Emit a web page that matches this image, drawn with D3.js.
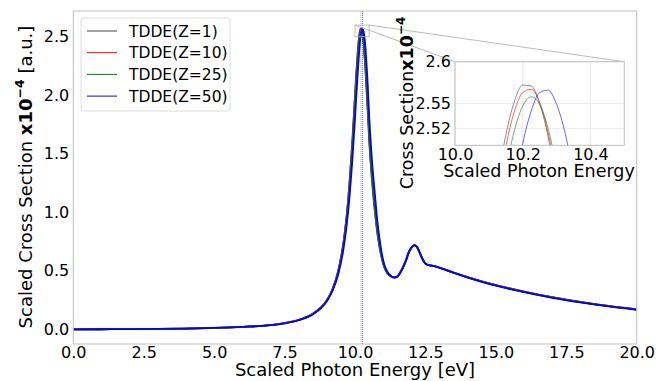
<!DOCTYPE html>
<html>
<head>
<meta charset="utf-8">
<script src="https://cdn.jsdelivr.net/npm/d3@7"></script>
<style>
  body { margin: 0; background: #fff; }
  text { font-family: "DejaVu Sans", sans-serif; fill: #000; }
</style>
</head>
<body>
<div id="container"></div>
<script>
/* DATA */
const energy = [0, 1, 2, 3, 4, 5, 6, 7, 7.5, 8, 8.5, 8.8, 9.0, 9.2, 9.4, 9.6, 9.7, 9.8, 9.9, 10.0, 10.05,
  10.1, 10.125, 10.15, 10.175, 10.2, 10.225, 10.25, 10.275, 10.3, 10.325, 10.35, 10.375,
  10.4, 10.45, 10.5, 10.6, 10.7, 10.8, 10.9, 11.0, 11.2, 11.4, 11.5, 11.6, 11.8, 11.9, 12.0, 12.1,
  12.2, 12.3, 12.4, 12.5, 12.6, 12.8, 13.0, 13.5, 14, 15, 16, 17, 18, 19, 20];

const z1 = [0.000, 0.001, 0.002, 0.004, 0.007, 0.012, 0.022, 0.037, 0.054, 0.081, 0.133, 0.189, 0.247, 0.340, 0.493, 0.757, 0.960, 1.233, 1.585, 1.998, 2.203,
  2.382, 2.455, 2.512, 2.552, 2.572, 2.571, 2.550, 2.510, 2.452, 2.379, 2.294, 2.199,
  2.090, 1.870, 1.630, 1.280, 1.020, 0.810, 0.665, 0.560, 0.465, 0.442, 0.452, 0.485, 0.585, 0.655, 0.700, 0.720,
  0.703, 0.652, 0.598, 0.562, 0.551, 0.542, 0.528, 0.486, 0.447, 0.378, 0.323, 0.275, 0.234, 0.200, 0.171];

const z10 = [0.000, 0.001, 0.002, 0.004, 0.007, 0.012, 0.022, 0.037, 0.054, 0.082, 0.134, 0.190, 0.250, 0.344, 0.497, 0.760, 0.961, 1.230, 1.577, 1.984, 2.187,
  2.366, 2.439, 2.498, 2.540, 2.563, 2.567, 2.551, 2.515, 2.462, 2.393, 2.312, 2.221,
  2.110, 1.900, 1.660, 1.300, 1.030, 0.820, 0.670, 0.565, 0.467, 0.443, 0.452, 0.485, 0.585, 0.655, 0.700, 0.720,
  0.703, 0.652, 0.598, 0.562, 0.551, 0.542, 0.528, 0.486, 0.447, 0.378, 0.323, 0.275, 0.234, 0.200, 0.171];

const z25 = [0.000, 0.001, 0.002, 0.004, 0.007, 0.012, 0.021, 0.036, 0.053, 0.080, 0.131, 0.186, 0.246, 0.337, 0.486, 0.742, 0.937, 1.199, 1.537, 1.939, 2.143,
  2.327, 2.405, 2.469, 2.517, 2.547, 2.558, 2.549, 2.520, 2.473, 2.410, 2.334, 2.246,
  2.140, 1.930, 1.690, 1.330, 1.050, 0.835, 0.680, 0.570, 0.468, 0.443, 0.451, 0.483, 0.583, 0.653, 0.698, 0.719,
  0.704, 0.653, 0.599, 0.562, 0.551, 0.541, 0.527, 0.484, 0.445, 0.376, 0.321, 0.273, 0.232, 0.198, 0.169];

const z50 = [0.000, 0.001, 0.002, 0.004, 0.007, 0.012, 0.021, 0.036, 0.052, 0.078, 0.128, 0.183, 0.240, 0.328, 0.466, 0.700, 0.880, 1.115, 1.425, 1.803, 2.007,
  2.203, 2.294, 2.376, 2.446, 2.502, 2.541, 2.563, 2.566, 2.549, 2.515, 2.463, 2.397,
  2.300, 2.100, 1.840, 1.450, 1.170, 0.910, 0.725, 0.590, 0.475, 0.445, 0.450, 0.480, 0.580, 0.650, 0.695, 0.718,
  0.705, 0.655, 0.600, 0.562, 0.550, 0.540, 0.525, 0.482, 0.443, 0.373, 0.318, 0.270, 0.230, 0.196, 0.167];

const seriesNames = ["TDDE(Z=1)", "TDDE(Z=10)", "TDDE(Z=25)", "TDDE(Z=50)"];
const seriesColors = ["#444444", "red", "green", "blue"];
const seriesValues = [z1, z10, z25, z50];
const peakLines = [10.21, 10.27];      // dotted markers (Z=1, Z=50)
const peakColors = ["#777777", "blue"];

const xTicks = [0, 2.5, 5, 7.5, 10, 12.5, 15, 17.5, 20];
const yTicks = [0, 0.5, 1.0, 1.5, 2.0, 2.5];
const insetXTicks = [10.0, 10.2, 10.4];
const insetYTicks = [2.52, 2.55, 2.6];
const insetYLabels = ["2.52", "2.55", "2.6"];
const zoomX = [10.0, 10.5];
const zoomY = [2.50, 2.60];

/* CONSTANTS */
const width = 670, height = 381;
const margin = {top: 11, bottom: 37, left: 73.3, right: 33.3};

const svg = d3.select("#container").append("svg")
  .attr("width", width).attr("height", height);

/* SCALES */
const xScale = d3.scaleLinear().domain([0, 20]).range([margin.left, width - margin.right]);
const yScale = d3.scaleLinear().domain([-0.125, 2.72]).range([height - margin.bottom, margin.top]);

const inset = {left: 455, right: 624.3, top: 61.7, bottom: 145.3};
const xIn = d3.scaleLinear().domain(zoomX).range([inset.left, inset.right]);
const yIn = d3.scaleLinear().domain(zoomY).range([inset.bottom, inset.top]);

const rows = energy.map((e, i) => ({e, i}));

/* MAIN PLOT */
svg.append("clipPath").attr("id", "clipMain").append("rect")
  .attr("x", xScale(0)).attr("y", yScale(2.72))
  .attr("width", xScale(20) - xScale(0)).attr("height", yScale(-0.125) - yScale(2.72));

const main = svg.append("g").attr("clip-path", "url(#clipMain)");

seriesValues.forEach((vals, k) => {
  main.append("path")
    .datum(rows)
    .attr("fill", "none")
    .attr("stroke", seriesColors[k])
    .attr("stroke-width", 1.8)
    .attr("d", d3.line().curve(d3.curveMonotoneX)
      .x(d => xScale(d.e)).y(d => yScale(vals[d.i])));
});

// vertical dotted lines at peak
peakLines.forEach((p, k) => {
  main.append("line")
    .attr("x1", xScale(p)).attr("x2", xScale(p))
    .attr("y1", yScale(2.72)).attr("y2", yScale(-0.125))
    .attr("stroke", peakColors[k]).attr("stroke-width", 1)
    .attr("stroke-dasharray", "1,1").attr("opacity", 0.6);
});

// frame
svg.append("rect")
  .attr("x", xScale(0)).attr("y", yScale(2.72))
  .attr("width", xScale(20) - xScale(0)).attr("height", yScale(-0.125) - yScale(2.72))
  .attr("fill", "none").attr("stroke", "#bfbfbf").attr("stroke-width", 1);

// axes
const xAxisGroup = svg.append("g")
  .attr("transform", `translate(0,${yScale(-0.125)})`)
  .call(d3.axisBottom(xScale).tickValues(xTicks).tickFormat(d3.format(".1f")).tickSize(0).tickPadding(3));
const yAxisGroup = svg.append("g")
  .attr("transform", `translate(${xScale(0)},0)`)
  .call(d3.axisLeft(yScale).tickValues(yTicks).tickFormat(d3.format(".1f")).tickSize(0).tickPadding(4));
[xAxisGroup, yAxisGroup].forEach(g => {
  g.select(".domain").remove();
  g.selectAll("text").style("font-size", "16px").style("font-family", "DejaVu Sans");
});

// axis labels
svg.append("text")
  .attr("x", (xScale(0) + xScale(20)) / 2).attr("y", 376)
  .attr("text-anchor", "middle").style("font-size", "18px")
  .text("Scaled Photon Energy [eV]");

const yLab = svg.append("text")
  .attr("transform", "translate(32,177) rotate(-90)")
  .attr("text-anchor", "middle").style("font-size", "18px");
yLab.append("tspan").text("Scaled Cross Section ");
yLab.append("tspan").style("font-weight", "bold").text("x10");
yLab.append("tspan").style("font-weight", "bold").style("font-size", "12.5px").attr("dy", -8).text("\u22124");
yLab.append("tspan").attr("dy", 8).text(" [a.u.]");

// legend
const legend = svg.append("g");
legend.append("rect")
  .attr("x", 81).attr("y", 18).attr("width", 149).attr("height", 93).attr("rx", 3)
  .attr("fill", "white").attr("fill-opacity", 0.8).attr("stroke", "#dddddd");
seriesNames.forEach((name, k) => {
  const cy = 31 + k * 21.7;
  legend.append("line").attr("x1", 87).attr("x2", 117).attr("y1", cy).attr("y2", cy)
    .attr("stroke", seriesColors[k]).attr("stroke-width", 1);
  legend.append("text").attr("x", 129).attr("y", cy + 5.5)
    .style("font-size", "15.5px").text(name);
});

/* ZOOM BOX AND CONNECTORS */
const bx0 = xScale(zoomX[0]), bx1 = xScale(zoomX[1]);
const by0 = yScale(zoomY[1]), by1 = yScale(zoomY[0]);
svg.append("rect").attr("x", bx0).attr("y", by0).attr("width", bx1 - bx0).attr("height", by1 - by0)
  .attr("fill", "none").attr("stroke", "#aaaaaa").attr("stroke-width", 0.8);
svg.append("line").attr("x1", bx1).attr("y1", by0).attr("x2", inset.right).attr("y2", inset.top)
  .attr("stroke", "#aaaaaa").attr("stroke-width", 0.8);
svg.append("line").attr("x1", bx0).attr("y1", by0).attr("x2", inset.left).attr("y2", inset.top)
  .attr("stroke", "#aaaaaa").attr("stroke-width", 0.8);

/* INSET */
const ins = svg.append("g");
ins.append("rect").attr("x", inset.left).attr("y", inset.top)
  .attr("width", inset.right - inset.left).attr("height", inset.bottom - inset.top)
  .attr("fill", "white");

// grid
insetXTicks.forEach(t => {
  ins.append("line").attr("x1", xIn(t)).attr("x2", xIn(t)).attr("y1", inset.top).attr("y2", inset.bottom)
    .attr("stroke", "#e6e6e6").attr("stroke-width", 0.8);
});
insetYTicks.forEach(t => {
  ins.append("line").attr("y1", yIn(t)).attr("y2", yIn(t)).attr("x1", inset.left).attr("x2", inset.right)
    .attr("stroke", "#e6e6e6").attr("stroke-width", 0.8);
});

svg.append("clipPath").attr("id", "clipInset").append("rect")
  .attr("x", inset.left).attr("y", inset.top)
  .attr("width", inset.right - inset.left).attr("height", inset.bottom - inset.top);

const insLines = ins.append("g").attr("clip-path", "url(#clipInset)");
seriesValues.forEach((vals, k) => {
  insLines.append("path")
    .datum(rows)
    .attr("fill", "none")
    .attr("stroke", seriesColors[k])
    .attr("stroke-width", 0.8)
    .attr("opacity", 0.75)
    .attr("d", d3.line().curve(d3.curveMonotoneX)
      .x(d => xIn(d.e)).y(d => yIn(vals[d.i])));
});

ins.append("rect").attr("x", inset.left).attr("y", inset.top)
  .attr("width", inset.right - inset.left).attr("height", inset.bottom - inset.top)
  .attr("fill", "none").attr("stroke", "#bfbfbf").attr("stroke-width", 1);

const ixAxis = ins.append("g").attr("transform", `translate(0,${inset.bottom})`)
  .call(d3.axisBottom(xIn).tickValues(insetXTicks).tickFormat(d3.format(".1f")).tickSize(0).tickPadding(3));
const iyAxis = ins.append("g").attr("transform", `translate(${inset.left},0)`)
  .call(d3.axisLeft(yIn).tickValues(insetYTicks).tickFormat((d, i) => insetYLabels[i]).tickSize(0).tickPadding(4));
[ixAxis, iyAxis].forEach(g => {
  g.select(".domain").remove();
  g.selectAll("text").style("font-size", "16px").style("font-family", "DejaVu Sans");
});

ins.append("text").attr("x", 539).attr("y", 177).attr("text-anchor", "middle")
  .style("font-size", "17.5px").text("Scaled Photon Energy");

const iyLab = ins.append("text")
  .attr("transform", "translate(413,103) rotate(-90)")
  .attr("text-anchor", "middle").style("font-size", "17.5px");
iyLab.append("tspan").text("Cross Section");
iyLab.append("tspan").style("font-weight", "bold").text("x10");
iyLab.append("tspan").style("font-weight", "bold").style("font-size", "12px").attr("dy", -8).text("\u22124");
</script>
</body>
</html>
